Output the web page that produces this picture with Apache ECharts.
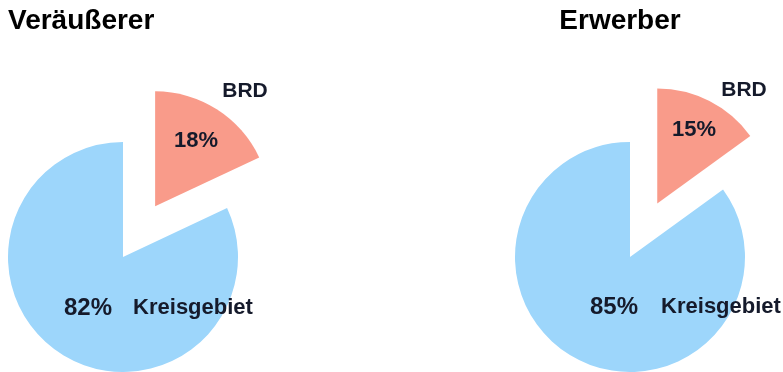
<!DOCTYPE html>
<html>
<head>
<meta charset="utf-8">
<script src="https://cdn.jsdelivr.net/npm/echarts@6/dist/echarts.min.js"></script>
<style>html,body{margin:0;padding:0;background:#fff}#c{width:783px;height:372px}</style>
</head>
<body>
<div id="c"></div>
<script>
const panelTitles = ['Veräußerer', 'Erwerber'];
const categories = ['BRD', 'Kreisgebiet'];
const valuesVeraeusserer = [18, 82];
const valuesErwerber = [15, 85];

const panels = [valuesVeraeusserer, valuesErwerber];
const colors = ['#F99B8A', '#9DD6FB'];
const FONT = '"Liberation Sans", Arial, sans-serif';

// layout (positions / sizes only)
const centers = [[123, 257], [630, 257]];
const titlePos = [[8, 21, 'left'], [620, 21, 'center']];
const namePos = [ [[245, 91], [193, 308]], [[744, 90], [721, 307]] ];
const pctPos = [ [[196, 141], [88, 308]], [[694, 130], [614, 307]] ];
const nameSize = [21, 22];
const pctSize = [22, 24];

const series = panels.map((vals, p) => ({
  type: 'pie',
  center: centers[p],
  radius: 115,
  startAngle: 90,
  clockwise: true,
  selectedMode: 'single',
  selectedOffset: 60,
  z: 1,
  label: { show: false },
  labelLine: { show: false },
  emphasis: { disabled: true },
  itemStyle: { borderWidth: 0 },
  data: categories.map((c, i) => ({
    name: c, value: vals[i], selected: i === 0,
    itemStyle: { color: colors[i] }
  }))
}));

const graphics = [];
panels.forEach((vals, p) => {
  const total = vals.reduce((a, b) => a + b, 0);
  graphics.push({
    type: 'text', x: titlePos[p][0], y: titlePos[p][1], z: 100,
    style: { text: panelTitles[p], font: 'bold 28px ' + FONT, fill: '#000',
      align: titlePos[p][2], verticalAlign: 'middle' }
  });
  categories.forEach((c, i) => {
    graphics.push({
      type: 'text', x: namePos[p][i][0], y: namePos[p][i][1], z: 100,
      style: { text: c, font: 'bold ' + nameSize[i] + 'px ' + FONT, fill: '#151a2b',
        align: 'center', verticalAlign: 'middle' }
    });
    graphics.push({
      type: 'text', x: pctPos[p][i][0], y: pctPos[p][i][1], z: 100,
      style: { text: Math.round(vals[i] / total * 100) + '%', font: 'bold ' + pctSize[i] + 'px ' + FONT, fill: '#151a2b',
        align: 'center', verticalAlign: 'middle' }
    });
  });
});

const chart = echarts.init(document.getElementById('c'));
chart.setOption({
  animation: false,
  backgroundColor: '#fff',
  series: series,
  graphic: { elements: graphics }
});
</script>
</body>
</html>
